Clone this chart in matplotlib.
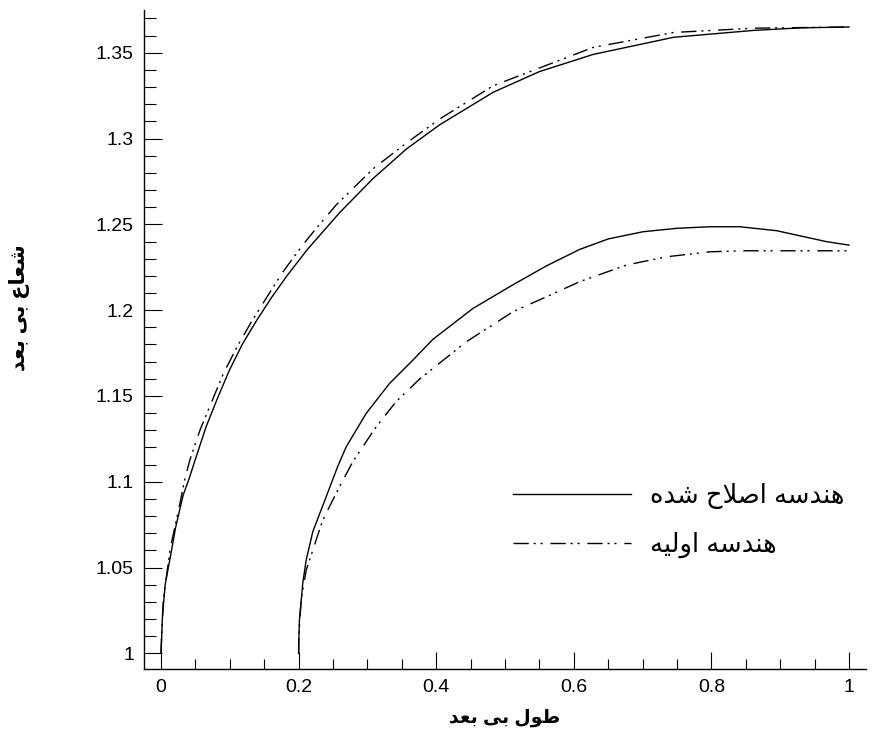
import matplotlib
matplotlib.use("Agg")
import matplotlib.pyplot as plt
from matplotlib.ticker import MultipleLocator, FuncFormatter

plt.rcParams['font.family'] = ['Liberation Sans', 'DejaVu Sans']

# matplotlib does no Arabic shaping, so the Persian labels are written with
# presentation forms (logical order) and reversed for display
xlabel_txt = '\uFEC3\uFEEE\uFEDD \uFE91\uFEF0 \uFE91\uFECC\uFEAA'[::-1]          # طول بی بعد
ylabel_txt = '\uFEB7\uFECC\uFE8E\uFEC9 \uFE91\uFEF0 \uFE91\uFECC\uFEAA'[::-1]    # شعاع بی بعد
label_new = '\uFEEB\uFEE8\uFEAA\uFEB3\uFEEA \uFE8D\uFEBB\uFEFC\uFEA1 \uFEB7\uFEAA\uFEE9'[::-1]  # هندسه اصلاح شده
label_old = '\uFEEB\uFEE8\uFEAA\uFEB3\uFEEA \uFE8D\uFEED\uFEDF\uFEF4\uFEEA'[::-1]  # هندسه اولیه

# upper curves
x_up_new = [0.0, 0.001, 0.002, 0.006, 0.0155, 0.021, 0.032, 0.041, 0.049, 0.0655, 0.0824,
            0.0994, 0.118, 0.1382, 0.160, 0.183, 0.212, 0.236, 0.260, 0.309, 0.357, 0.405,
            0.483, 0.550, 0.628, 0.745, 0.861, 0.930, 1.0]
y_up_new = [1.0, 1.010, 1.021, 1.040, 1.0605, 1.073, 1.092, 1.102, 1.112, 1.132, 1.149,
            1.165, 1.180, 1.1935, 1.207, 1.220, 1.235, 1.246, 1.257, 1.277, 1.294, 1.308,
            1.327, 1.339, 1.349, 1.359, 1.363, 1.3645, 1.365]

x_up_old = [0.0, 0.001, 0.0034, 0.0131, 0.0276, 0.0349, 0.042, 0.0567, 0.0906, 0.111,
            0.1318, 0.1754, 0.207, 0.2263, 0.255, 0.3086, 0.357, 0.4055, 0.483, 0.628,
            0.745, 0.861, 1.0]
y_up_old = [1.0, 1.012, 1.0314, 1.0605, 1.0876, 1.1021, 1.1128, 1.1302, 1.163, 1.179,
            1.1935, 1.2213, 1.2385, 1.248, 1.2615, 1.2825, 1.2975, 1.3115, 1.3308, 1.3531,
            1.3618, 1.3643, 1.365]

# lower curves
x_lo_new = [0.2, 0.2003, 0.2012, 0.2060, 0.211, 0.2206, 0.2401, 0.2569, 0.2692, 0.2983,
            0.3322, 0.3661, 0.3952, 0.4534, 0.5116, 0.5602, 0.6086, 0.650, 0.7007, 0.750,
            0.7977, 0.8414, 0.8948, 0.9676, 1.0]
y_lo_new = [1.0, 1.008, 1.0194, 1.0408, 1.0544, 1.0709, 1.0913, 1.1090, 1.1204, 1.1399,
            1.1573, 1.1709, 1.1830, 1.2010, 1.2148, 1.2258, 1.2354, 1.2415, 1.2457, 1.2477,
            1.2486, 1.2486, 1.2463, 1.2399, 1.2379]

x_lo_old = [0.2, 0.2005, 0.2037, 0.2110, 0.2351, 0.2594, 0.2788, 0.3128, 0.3419, 0.3758,
            0.4438, 0.4777, 0.5116, 0.5602, 0.6086, 0.6766, 0.7348, 0.7977, 0.8462, 1.0]
y_lo_old = [1.0, 1.012, 1.0311, 1.0485, 1.0777, 1.0971, 1.1117, 1.1321, 1.1468, 1.1598,
            1.1816, 1.1903, 1.1991, 1.2078, 1.2166, 1.2263, 1.2311, 1.2340, 1.2346, 1.2346]

dash_pat = (11, 3.5, 1.5, 3.5, 1.5, 5.6)

fig = plt.figure(figsize=(8.72, 7.37), dpi=100)
ax = fig.add_axes([144.3 / 872, 68 / 737, 721.7 / 872, 659 / 737])

l_new, = ax.plot(x_up_new, y_up_new, color='black', lw=1.0)
l_old, = ax.plot(x_up_old, y_up_old, color='black', lw=1.0, dashes=dash_pat)
ax.plot(x_lo_new, y_lo_new, color='black', lw=1.0)
ax.plot(x_lo_old, y_lo_old, color='black', lw=1.0, dashes=dash_pat)

ax.set_xlim(-0.0243, 1.0247)
ax.set_ylim(0.9909, 1.3749)

ax.spines['top'].set_visible(False)
ax.spines['right'].set_visible(False)
for s in ['left', 'bottom']:
    ax.spines[s].set_linewidth(1.0)

ax.xaxis.set_major_locator(MultipleLocator(0.2))
ax.xaxis.set_minor_locator(MultipleLocator(0.05))
ax.yaxis.set_major_locator(MultipleLocator(0.05))
ax.yaxis.set_minor_locator(MultipleLocator(0.01))
fmt = FuncFormatter(lambda v, p: '{:g}'.format(round(v, 4)))
ax.xaxis.set_major_formatter(fmt)
ax.yaxis.set_major_formatter(fmt)

ax.tick_params(axis='both', which='major', direction='in', width=0.8, labelsize=14)
ax.tick_params(axis='x', which='major', length=12.5, pad=7)
ax.tick_params(axis='y', which='major', length=13, pad=7.5)
ax.tick_params(axis='x', which='minor', direction='in', length=7.5, width=0.8)
ax.tick_params(axis='y', which='minor', direction='in', length=8.5, width=0.8)

fig.text(505 / 872, 1 - 718 / 737, xlabel_txt, ha='center', va='center',
         fontsize=13.5, fontweight='bold')
fig.text(20 / 872, 1 - 308 / 737, ylabel_txt, ha='center', va='center',
         rotation=90, fontsize=15, fontweight='bold')

ax.legend([l_new, l_old], [label_new, label_old], loc='upper left',
          bbox_to_anchor=(0.511, 0.2824), frameon=False, fontsize=18.5,
          handlelength=4.6, handletextpad=0.74, labelspacing=0.9,
          borderpad=0, borderaxespad=0)

fig.savefig('out.png', dpi=100)
